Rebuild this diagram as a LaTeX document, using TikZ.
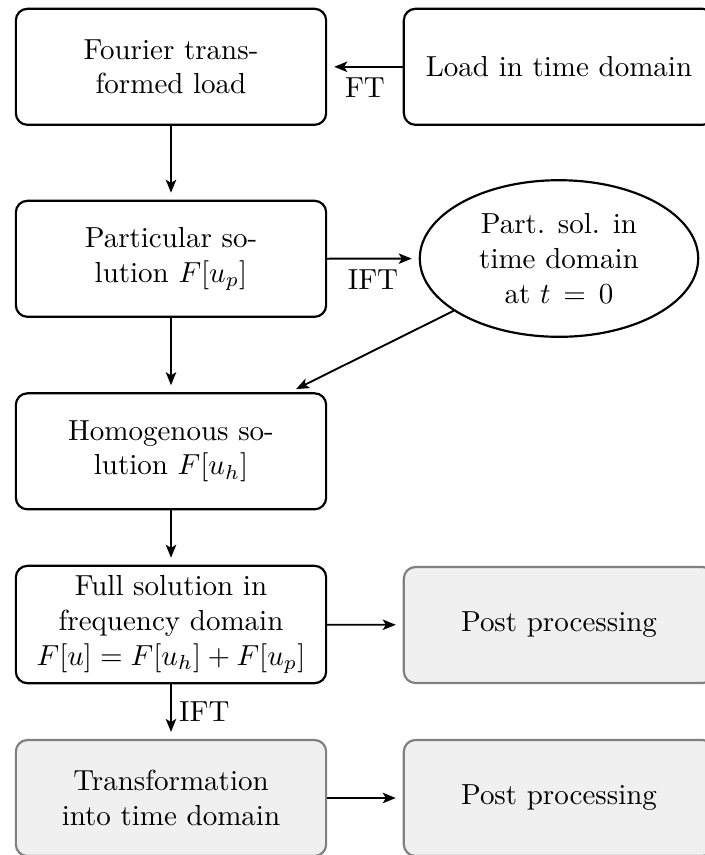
\documentclass[tikz,border=0pt]{standalone}
\usetikzlibrary{arrows.meta,shapes.geometric}
\begin{document}
\begin{tikzpicture}[x=0.3448pt,y=-0.3448pt,
  box/.style={draw, rounded corners=4pt, line width=0.75pt,
    minimum width=107pt, minimum height=40pt, align=center},
  greybox/.style={box, draw=black!50, fill=black!6},
  oval/.style={ellipse, draw, line width=0.75pt, minimum width=96pt,
    minimum height=54pt, inner sep=0pt, align=center},
  flow/.style={-{Stealth[length=4.5pt,width=3.6pt,inset=1.1pt]},
    line width=0.65pt, shorten >=2.4pt}]
  \useasboundingbox (0,0) rectangle (705,855);
  \clip (0,0) rectangle (705,855);

  % left column
  \node[box] (fourier) at (171,66.8) {Fourier trans-\\formed load};
  \node[box] (part)    at (171,258.8) {Particular so-\\lution $F[u_p]$};
  \node[box] (homog)   at (171,451.3) {Homogenous so-\\lution $F[u_h]$};
  \node[box] (full)    at (171,624.5) {Full solution in\\frequency domain\\$F[u] = F[u_h] + F[u_p]$};
  \node[greybox] (trans) at (171,798) {Transformation\\into time domain};

  % right column
  \node[box] (load)  at (559,66.8) {Load in time domain};
  \node[oval] (ell)  at (559,258.5) {Part. sol. in\\time domain\\at $t\mathrel{\mskip3mu=\mskip3mu}0$};
  \node[greybox] (post1) at (559,625) {Post processing};
  \node[greybox] (post2) at (559,798) {Post processing};

  % connectors
  \draw[flow] (load) -- node[below] {FT} (fourier);
  \draw[flow] (fourier) -- (part);
  \draw[flow] (part) -- node[below] {IFT} (ell);
  \draw[flow] (part) -- (homog);
  \draw[flow] (ell) -- (homog);
  \draw[flow] (homog) -- (full);
  \draw[flow] (full) -- (post1);
  \draw[flow] (full) -- node[right, inner sep=2.5pt] {IFT} (trans);
  \draw[flow] (trans) -- (post2);
\end{tikzpicture}
\end{document}
